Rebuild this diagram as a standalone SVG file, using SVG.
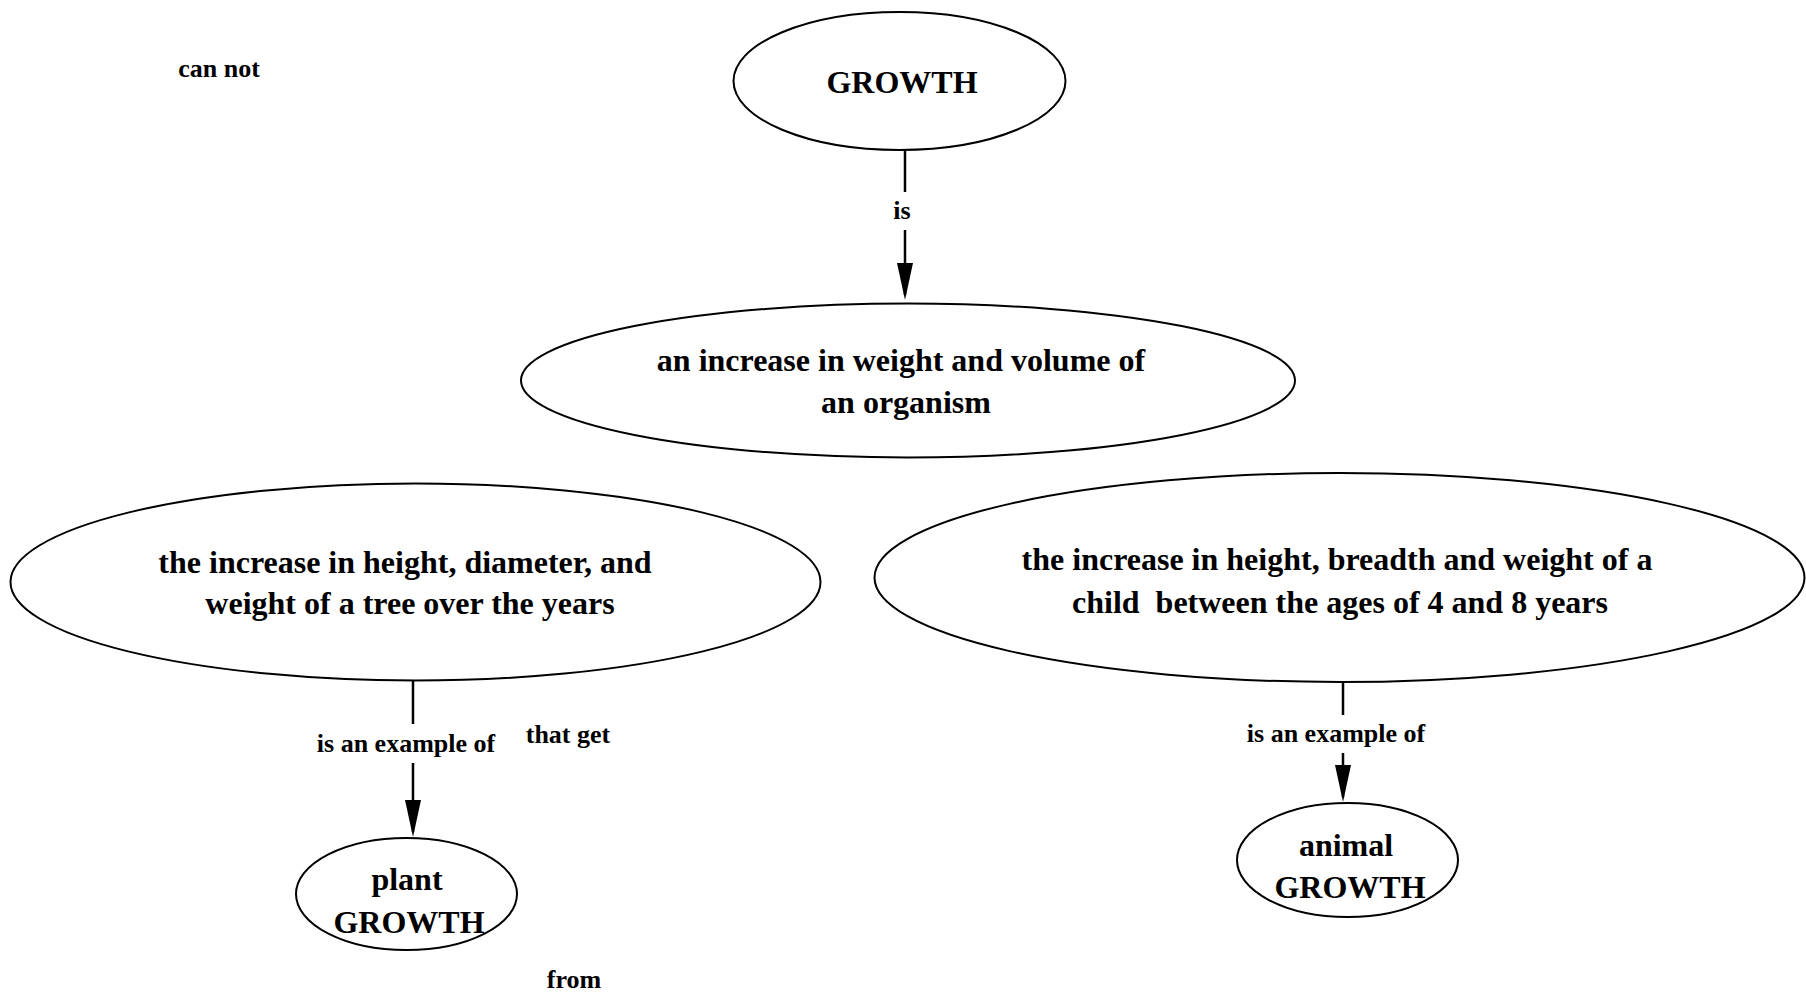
<svg xmlns="http://www.w3.org/2000/svg" width="1806" height="992" viewBox="0 0 1806 992">
  <style>
    .node { fill: #ffffff; stroke: #000000; stroke-width: 2; }
    .nt { font-family: "Liberation Serif", "Times New Roman", serif; font-weight: bold; font-size: 32px; fill: #000; text-anchor: middle; white-space: pre; }
    .lbl { font-family: "Liberation Serif", "Times New Roman", serif; font-weight: bold; font-size: 26px; fill: #000; text-anchor: middle; }
    .edge { fill: none; stroke: #000; stroke-width: 2.5; }
  </style>
  <defs>
    <marker id="arrow" markerUnits="userSpaceOnUse" markerWidth="37" markerHeight="16" viewBox="0 0 37 16" refX="32" refY="8" orient="auto">
      <path d="M0,0 L37,8 L0,16 z" fill="#000"/>
    </marker>
  </defs>

  <rect width="1806" height="992" fill="#ffffff"/>

  <!-- connectors -->
  <g id="connectors">
    <path class="edge" d="M905,150 L905,192"/>
    <path class="edge" d="M905,230 L905,295" marker-end="url(#arrow)"/>
    <text class="lbl" x="902" y="219">is</text>

    <path class="edge" d="M413,681 L413,724"/>
    <path class="edge" d="M413,763 L413,832" marker-end="url(#arrow)"/>
    <text class="lbl" x="406" y="752">is an example of</text>

    <path class="edge" d="M1343,683 L1343,715"/>
    <path class="edge" d="M1343,753 L1343,797" marker-end="url(#arrow)"/>
    <text class="lbl" x="1336" y="742">is an example of</text>
  </g>

  <!-- free-standing linking phrases -->
  <g id="free-labels">
    <text class="lbl" x="219" y="77">can not</text>
    <text class="lbl" x="568" y="743">that get</text>
    <text class="lbl" x="574" y="988">from</text>
  </g>

  <!-- concepts -->
  <g id="growth">
    <ellipse class="node" cx="899.5" cy="81" rx="166" ry="69"/>
    <text class="nt" x="902" y="93">GROWTH</text>
  </g>

  <g id="increase">
    <ellipse class="node" cx="908" cy="380.5" rx="387" ry="77"/>
    <text class="nt" x="901" y="371">an increase in weight and volume of</text>
    <text class="nt" x="906" y="413">an organism</text>
  </g>

  <g id="tree">
    <ellipse class="node" cx="415.5" cy="582" rx="405" ry="98.5"/>
    <text class="nt" x="405" y="573">the increase in height, diameter, and</text>
    <text class="nt" x="410" y="614">weight of a tree over the years</text>
  </g>

  <g id="child">
    <ellipse class="node" cx="1339.5" cy="577.5" rx="465" ry="104.5"/>
    <text class="nt" x="1337" y="570">the increase in height, breadth and weight of a</text>
    <text class="nt" x="1340" y="613" xml:space="preserve">child  between the ages of 4 and 8 years</text>
  </g>

  <g id="plant">
    <ellipse class="node" cx="406.5" cy="894" rx="110.5" ry="56"/>
    <text class="nt" x="407" y="890">plant</text>
    <text class="nt" x="409" y="933">GROWTH</text>
  </g>

  <g id="animal">
    <ellipse class="node" cx="1347.5" cy="860" rx="110.5" ry="57"/>
    <text class="nt" x="1346" y="856">animal</text>
    <text class="nt" x="1350" y="898">GROWTH</text>
  </g>
</svg>
